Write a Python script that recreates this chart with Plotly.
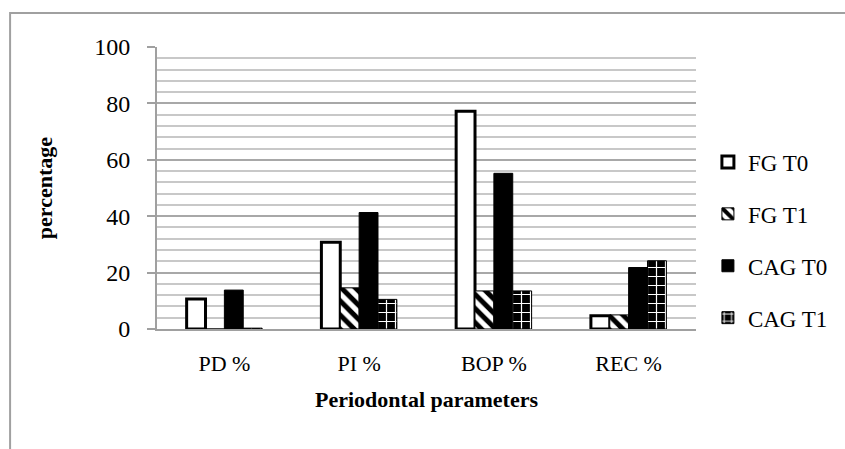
import plotly.graph_objects as go

categories = ["PD %", "PI %", "BOP %", "REC %"]
fg_t0 = [10.6, 30.8, 77.2, 4.7]
fg_t1 = [0.0, 14.6, 13.5, 5.0]
cag_t0 = [13.8, 41.3, 55.2, 21.8]
cag_t1 = [0.3, 10.5, 13.5, 24.2]

FONT = "Liberation Serif"
W, H = 845, 449
L, R, T, B = 157, 145, 47, 120
pw, ph = W - L - R, H - T - B


def px_x(p):
    return (p - L) / pw


def px_y(p):
    return (H - B - p) / ph


fig = go.Figure()

fig.add_trace(go.Bar(
    x=categories, y=fg_t0, name="FG T0", legendgroup="a",
    marker=dict(color="white", line=dict(color="black", width=3)),
))
fig.add_trace(go.Bar(
    x=categories, y=fg_t1, name="FG T1", legendgroup="b",
    marker=dict(color="white", line=dict(color="black", width=1),
                pattern=dict(shape="\\", fillmode="replace", bgcolor="white",
                             fgcolor="black", size=10, solidity=0.5)),
))
fig.add_trace(go.Bar(
    x=categories, y=cag_t0, name="CAG T0", legendgroup="c",
    marker=dict(color="black", line=dict(color="black", width=1)),
))
fig.add_trace(go.Bar(
    x=categories, y=cag_t1, name="CAG T1", legendgroup="d",
    marker=dict(color="black", line=dict(color="black", width=1),
                pattern=dict(shape="+", fillmode="replace", bgcolor="black",
                             fgcolor="white", size=9, solidity=0.25)),
))

# light outer frame around the chart
fig.add_shape(type="rect", xref="paper", yref="paper",
              x0=px_x(9), x1=px_x(860), y0=px_y(470), y1=px_y(13),
              line=dict(color="#a0a0a0", width=2), layer="below")

fig.update_layout(
    width=W, height=H,
    margin=dict(l=L, r=R, t=T, b=B),
    paper_bgcolor="white", plot_bgcolor="white",
    barmode="group", bargap=0.44, bargroupgap=0,
    font=dict(family=FONT, color="black", size=22),
    showlegend=True,
    legend=dict(x=px_x(712), xanchor="left", y=px_y(240), yanchor="middle",
                traceorder="grouped", tracegroupgap=19,
                font=dict(family=FONT, size=23, color="black"),
                itemwidth=30),
    xaxis=dict(
        showline=True, linecolor="#a0a0a0", linewidth=2,
        ticks="", tickfont=dict(family=FONT, size=22), ticklabelstandoff=14,
        title=dict(text="<b>Periodontal parameters</b>",
                   font=dict(family=FONT, size=22), standoff=16),
    ),
    yaxis=dict(
        range=[0, 100], dtick=20, tick0=0,
        showline=True, linecolor="#a0a0a0", linewidth=2,
        ticks="outside", ticklen=8, tickcolor="#a0a0a0", tickwidth=2,
        showgrid=True, gridcolor="#a8a8a8", gridwidth=2,
        minor=dict(dtick=4, showgrid=True, gridcolor="#c8c8c8", gridwidth=1.5),
        tickfont=dict(family=FONT, size=24), ticklabelstandoff=12,
        title=dict(text="<b>percentage</b>",
                   font=dict(family=FONT, size=22), standoff=36),
        zeroline=False,
    ),
)

fig.write_html("out.html")
